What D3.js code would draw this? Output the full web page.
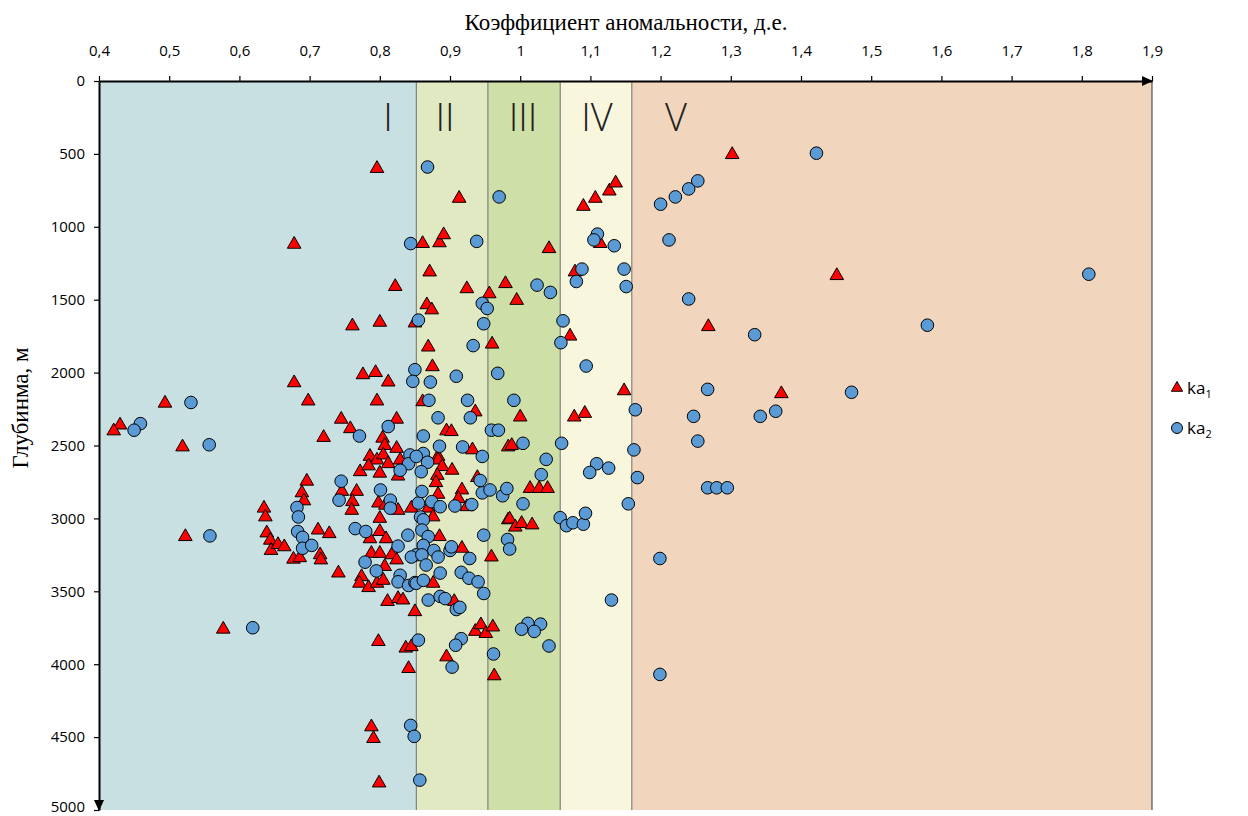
<!DOCTYPE html>
<html>
<head>
<meta charset="utf-8">
<script src="https://cdn.jsdelivr.net/npm/d3@7"></script>
<style>
  body { margin: 0; background: #fff; }
  .tick text { font-family: 'Open Sans', 'Liberation Sans', sans-serif; font-size: 15px; fill: #000; }
  .zone-label { font-family: 'Open Sans', sans-serif; font-weight: 300; font-size: 38px; fill: #222; }
  .title { font-family: 'Liberation Serif', serif; font-size: 23px; fill: #000; }
  .legend text { font-family: 'Open Sans', sans-serif; font-size: 17px; fill: #000; }
</style>
</head>
<body>
<script>
// axis ticks
const xTicks = [0.4, 0.5, 0.6, 0.7, 0.8, 0.9, 1.0, 1.1, 1.2, 1.3, 1.4, 1.5, 1.6, 1.7, 1.8, 1.9]
const yTicks = [0, 500, 1000, 1500, 2000, 2500, 3000, 3500, 4000, 4500, 5000]

// zones of anomaly coefficient
const zoneNames = ['I', 'II', 'III', 'IV', 'V']
const zoneEdges = [0.4, 0.852, 0.954, 1.057, 1.159, 1.9]
const zoneColors = ['#c8e0e2', '#e0e9c2', '#cedfa8', '#f9f6de', '#f2d5bd']

// ka1 - [coefficient, depth m]
const ka1 = [
  [0.678, 1120], [0.678, 2070], [0.494, 2210], [0.430, 2360], [0.421, 2400], [0.519, 2510],
  [0.635, 2930], [0.637, 2990], [0.639, 3100], [0.644, 3150], [0.645, 3220], [0.655, 3180],
  [0.664, 3195], [0.677, 3280], [0.686, 3270], [0.523, 3125], [0.577, 3760],
  [0.696, 2745], [0.689, 2825], [0.692, 2880],
  [0.796, 600], [0.822, 1410], [0.761, 1680], [0.800, 1655], [0.850, 1660], [0.776, 2015],
  [0.794, 2000], [0.812, 2065], [0.698, 2195], [0.796, 2195], [0.745, 2320], [0.758, 2385],
  [0.824, 2320], [0.720, 2445], [0.804, 2450], [0.807, 2500], [0.824, 2520],
  [0.786, 2575], [0.796, 2600], [0.805, 2565], [0.812, 2625], [0.829, 2600], [0.772, 2680],
  [0.784, 2640], [0.800, 2690], [0.826, 2710], [0.746, 2815], [0.767, 2815], [0.761, 2885],
  [0.760, 2945], [0.798, 2895], [0.800, 3000], [0.808, 2910], [0.826, 2945], [0.845, 2930],
  [0.712, 3080], [0.728, 3105], [0.786, 3140], [0.800, 3090], [0.809, 3140], [0.715, 3250],
  [0.788, 3240], [0.800, 3240], [0.817, 3250],
  [0.716, 3285], [0.741, 3375], [0.774, 3400], [0.771, 3445], [0.784, 3475], [0.796, 3445],
  [0.805, 3425], [0.807, 3330], [0.824, 3285], [0.811, 3570], [0.826, 3550], [0.833, 3560],
  [0.850, 3640], [0.798, 3845], [0.837, 3890], [0.845, 3880], [0.841, 4030], [0.788, 4430],
  [0.791, 4510], [0.799, 4815],
  [0.913, 805], [0.861, 1115], [0.885, 1110], [0.891, 1055], [0.871, 1310], [0.924, 1425],
  [0.956, 1460], [0.979, 1390], [0.867, 1535], [0.874, 1570], [0.869, 1825], [0.960, 1805],
  [0.875, 1960], [0.861, 2200], [0.936, 2270], [0.895, 2400], [0.902, 2405], [0.932, 2530],
  [0.983, 2510], [0.883, 2575],
  [0.883, 2600], [0.889, 2645], [0.903, 2670], [0.882, 2705], [0.880, 2755], [0.939, 2720],
  [0.883, 2835], [0.917, 2805], [0.912, 2865], [0.924, 2920], [0.869, 2930], [0.876, 2990],
  [0.983, 3010], [0.885, 3125], [0.917, 3205], [0.959, 3265],
  [0.876, 3445], [0.906, 3570], [0.936, 3775], [0.944, 3730], [0.951, 3790], [0.961, 3745],
  [0.963, 4080], [0.895, 3950],
  [1.041, 1150], [0.995, 1505], [1.090, 860], [1.107, 805], [1.127, 755], [1.136, 700],
  [1.114, 1115], [1.078, 1310], [1.071, 1750], [1.148, 2125], [1.077, 2305], [1.092, 2280],
  [1.000, 2305], [0.988, 2500],
  [1.014, 2795], [1.027, 2795], [1.039, 2795], [0.985, 3005], [0.993, 3060], [1.002, 3035],
  [1.017, 3045],
  [1.302, 505], [1.451, 1335], [1.268, 1685], [1.372, 2145]
]

// ka2 - [coefficient, depth m]
const ka2 = [
  [0.531, 2205], [0.459, 2350], [0.450, 2395], [0.557, 2495], [0.682, 2925], [0.684, 2990],
  [0.683, 3090], [0.690, 3130], [0.690, 3205], [0.558, 3120], [0.619, 3750],
  [0.844, 1115], [0.855, 1640], [0.850, 1980], [0.847, 2060], [0.771, 2435], [0.812, 2370],
  [0.843, 2565], [0.841, 2625], [0.829, 2670], [0.745, 2745], [0.742, 2875], [0.801, 2805],
  [0.815, 2875], [0.815, 2930], [0.855, 2895], [0.765, 3070], [0.780, 3090], [0.840, 3115],
  [0.826, 3190], [0.703, 3185], [0.852, 3250],
  [0.779, 3300], [0.795, 3360], [0.829, 3390], [0.826, 3435], [0.841, 3460], [0.850, 3440],
  [0.845, 3265], [0.855, 3835], [0.844, 4420], [0.849, 4495], [0.857, 4795],
  [0.868, 590], [0.970, 795], [0.938, 1100], [0.946, 1525], [0.953, 1560], [0.948, 1665],
  [0.933, 1815], [0.872, 2065], [0.909, 2025], [0.968, 2005], [0.870, 2190], [0.925, 2190],
  [0.929, 2310], [0.883, 2310], [0.862, 2435], [0.885, 2505], [0.918, 2510], [0.959, 2395],
  [0.969, 2395], [0.946, 2575], [0.862, 2555], [0.852, 2575],
  [0.868, 2615], [0.859, 2680], [0.943, 2740], [0.946, 2825], [0.957, 2805], [0.975, 2845],
  [0.981, 2795], [0.860, 2815], [0.907, 2915], [0.931, 2905], [0.874, 2885], [0.886, 2920],
  [0.858, 2990], [0.862, 3010], [0.860, 3080], [0.869, 3125], [0.948, 3115], [0.982, 3145],
  [0.862, 3185], [0.877, 3220], [0.900, 3220], [0.902, 3195], [0.883, 3265], [0.860, 3250],
  [0.928, 3275],
  [0.866, 3320], [0.886, 3375], [0.852, 3445], [0.862, 3425], [0.916, 3370], [0.927, 3410],
  [0.940, 3435], [0.948, 3515], [0.869, 3560], [0.886, 3535], [0.893, 3550], [0.909, 3625],
  [0.914, 3610], [0.962, 3930], [0.916, 3825], [0.908, 3870], [0.903, 4020],
  [1.024, 1400], [1.043, 1450], [1.110, 1050], [1.105, 1090], [1.134, 1130], [1.088, 1290],
  [1.080, 1375], [1.148, 1290], [1.151, 1410], [1.061, 1645], [1.058, 1795], [1.094, 1955],
  [1.164, 2255], [0.991, 2190], [1.004, 2485], [1.059, 2485], [1.037, 2595], [1.030, 2700],
  [1.109, 2625], [1.099, 2685], [1.126, 2655], [1.162, 2530],
  [1.004, 2900], [0.985, 3210], [1.057, 2995], [1.066, 3050], [1.075, 3030], [1.090, 3040],
  [1.093, 2965], [1.154, 2900], [1.167, 2720], [1.130, 3560], [1.011, 3720], [1.029, 3725],
  [1.002, 3760], [1.020, 3775], [1.041, 3875],
  [1.422, 495], [1.200, 845], [1.221, 795], [1.240, 740], [1.253, 685], [1.212, 1090],
  [1.240, 1495], [1.810, 1325], [1.580, 1675], [1.334, 1740], [1.267, 2115], [1.472, 2135],
  [1.247, 2300], [1.342, 2300], [1.364, 2265], [1.253, 2470], [1.267, 2790], [1.280, 2790],
  [1.295, 2790], [1.199, 3275], [1.199, 4070]
]

const chart = () => {
    let width = 1248,
        height = 816
    let pLeft = 99, pRight = 1152, pTop = 81, pBottom = 810

    let svg = d3.select('body').append('svg')
        .attr('width', width)
        .attr('height', height)

    let x = d3.scaleLinear().domain([0.4, 1.9]).range([pLeft, pRight])
    let y = d3.scaleLinear().domain([0, 5000]).range([pTop, pBottom])

    // zone backgrounds
    let zones = zoneNames.map((n, i) => ({name: n, x0: zoneEdges[i], x1: zoneEdges[i + 1], color: zoneColors[i]}))
    svg.selectAll('.zone')
        .data(zones).enter()
        .append('rect')
        .attr('class', 'zone')
        .attr('x', d => x(d.x0))
        .attr('y', pTop)
        .attr('width', d => x(d.x1) - x(d.x0))
        .attr('height', pBottom - pTop)
        .attr('fill', d => d.color)

    svg.selectAll('.zone-line')
        .data(zoneEdges.slice(1)).enter()
        .append('line')
        .attr('x1', d => x(d)).attr('x2', d => x(d))
        .attr('y1', pTop).attr('y2', pBottom)
        .attr('stroke', d => d === 1.9 ? '#333' : '#6f6f6f')
        .attr('stroke-width', 1)

    svg.selectAll('.zone-label')
        .data(zones).enter()
        .append('text')
        .attr('class', 'zone-label')
        .attr('x', (d, i) => [388, 445, 523, 597, 676][i])
        .attr('y', 131)
        .attr('text-anchor', 'middle')
        .text(d => d.name)

    // markers: triangles first, circles on top
    let tri = d3.symbol().type(d3.symbolTriangle).size(80)
    svg.append('g').selectAll('path')
        .data(ka1).enter()
        .append('path')
        .attr('d', tri)
        .attr('transform', d => `translate(${x(d[0])},${y(d[1])})`)
        .attr('fill', '#ff0000')
        .attr('stroke', '#000')
        .attr('stroke-width', 1)

    svg.append('g').selectAll('circle')
        .data(ka2).enter()
        .append('circle')
        .attr('cx', d => x(d[0]))
        .attr('cy', d => y(d[1]))
        .attr('r', 6.3)
        .attr('fill', '#5b9bd5')
        .attr('stroke', '#000')
        .attr('stroke-width', 1)

    // axes
    let fmt = d => Math.abs(d - 1) < 1e-9 ? '1' : d3.format('.1f')(d).replace('.', ',')
    let xAxis = svg.append('g')
        .attr('transform', `translate(0,${pTop})`)
        .call(d3.axisTop(x).tickValues(xTicks).tickFormat(fmt).tickSize(5).tickSizeOuter(0))
    xAxis.select('.domain').attr('stroke', '#000').attr('stroke-width', 2)
    xAxis.selectAll('.tick line').attr('stroke', '#000').attr('stroke-width', 1.2)
    xAxis.selectAll('.tick text').attr('y', -25).attr('dy', 0)

    let yAxis = svg.append('g')
        .attr('transform', `translate(${pLeft},0)`)
        .call(d3.axisLeft(y).tickValues(yTicks).tickFormat(d3.format('d')).tickSize(5).tickSizeOuter(0))
    yAxis.select('.domain').attr('stroke', '#000').attr('stroke-width', 2)
    yAxis.selectAll('.tick line').attr('stroke', '#000').attr('stroke-width', 1.2)
    yAxis.selectAll('.tick text').attr('x', -14)
        .attr('y', d => d === 5000 ? -3 : 0)

    // arrow heads
    svg.append('path')
        .attr('d', `M${pRight + 1},${pTop} l-11,-5 l0,10 z`)
        .attr('fill', '#000')
    svg.append('path')
        .attr('d', `M${pLeft},${pBottom + 1} l-5,-11 l10,0 z`)
        .attr('fill', '#000')

    // titles
    svg.append('text')
        .attr('class', 'title')
        .attr('x', 626).attr('y', 30)
        .attr('text-anchor', 'middle')
        .text('Коэффициент аномальности, д.е.')

    svg.append('text')
        .attr('class', 'title')
        .attr('transform', `translate(28,408) rotate(-90)`)
        .attr('text-anchor', 'middle')
        .text('Глубинма, м')

    // legend
    let legend = svg.append('g').attr('class', 'legend')
    legend.append('path')
        .attr('d', d3.symbol().type(d3.symbolTriangle).size(55))
        .attr('transform', 'translate(1177,388)')
        .attr('fill', '#ff0000').attr('stroke', '#000')
    legend.append('circle')
        .attr('cx', 1177).attr('cy', 428).attr('r', 5.5)
        .attr('fill', '#5b9bd5').attr('stroke', '#000')
    let lt = legend.selectAll('text.lab')
        .data(['1', '2']).enter()
        .append('text')
        .attr('class', 'lab')
        .attr('x', 1187)
        .attr('y', (d, i) => 394 + i * 40)
    lt.append('tspan').text('ka')
    lt.append('tspan').attr('font-size', '11px').attr('dy', 4).text(d => d)
}

chart()
</script>
</body>
</html>
